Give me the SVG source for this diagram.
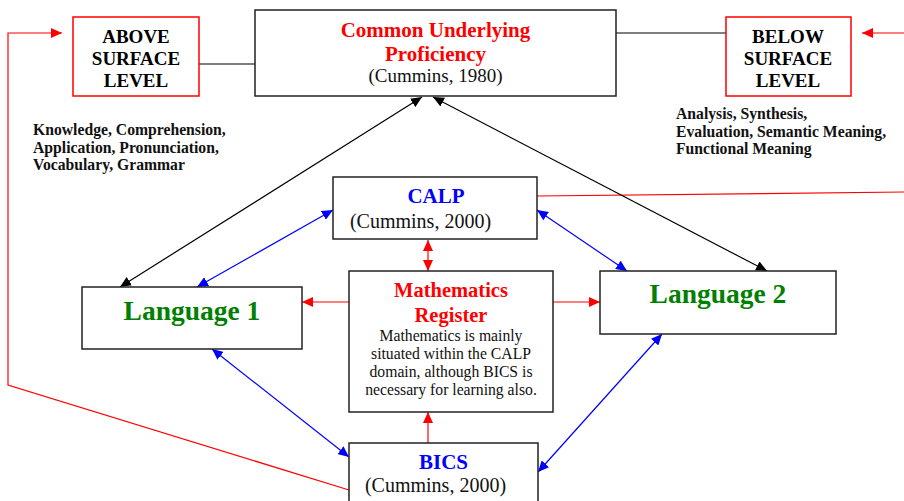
<svg xmlns="http://www.w3.org/2000/svg" width="904" height="501" viewBox="0 0 904 501">
<style>
.box{fill:#fff;stroke:#222;stroke-width:1.5}
.rbox{fill:#fff;stroke:#f00;stroke-width:1.5}
.t{font-family:"Liberation Serif","Times New Roman",serif;text-anchor:middle}
.b{font-weight:bold}
.l{font-family:"Liberation Serif","Times New Roman",serif;font-weight:bold;font-size:15.7px;fill:#111}
.k{stroke:#000;stroke-width:1.2;fill:none}
.bl{stroke:#00f;stroke-width:1.2;fill:none}
.rd{stroke:#f00;stroke-width:1.2;fill:none}
</style>
<defs>
<marker id="ak" markerUnits="userSpaceOnUse" markerWidth="11" markerHeight="10" refX="11" refY="5" orient="auto-start-reverse"><path d="M0,0 L11,5 L0,10 z" fill="#000"/></marker>
<marker id="ab" markerUnits="userSpaceOnUse" markerWidth="11" markerHeight="10" refX="11" refY="5" orient="auto-start-reverse"><path d="M0,0 L11,5 L0,10 z" fill="#00f"/></marker>
<marker id="ar" markerUnits="userSpaceOnUse" markerWidth="11" markerHeight="10" refX="11" refY="5" orient="auto-start-reverse"><path d="M0,0 L11,5 L0,10 z" fill="#f00"/></marker>
</defs>
<g id="connectors">
<line class="k" x1="199" y1="64" x2="255" y2="64"/>
<line class="k" x1="616" y1="33" x2="726" y2="33"/>
<polyline class="rd" points="349,490 8,385 8,33 62,33" marker-end="url(#ar)"/>
<line class="rd" x1="904" y1="33" x2="862" y2="33" marker-end="url(#ar)"/>
<line class="rd" x1="537" y1="196" x2="904" y2="192"/>
<line class="k" x1="120" y1="287" x2="422" y2="97" marker-start="url(#ak)" marker-end="url(#ak)"/>
<line class="k" x1="767" y1="271" x2="433" y2="97" marker-start="url(#ak)" marker-end="url(#ak)"/>
<line class="bl" x1="197" y1="287" x2="333" y2="210" marker-start="url(#ab)" marker-end="url(#ab)"/>
<line class="bl" x1="627" y1="271" x2="537" y2="210" marker-start="url(#ab)" marker-end="url(#ab)"/>
<line class="rd" x1="428" y1="240" x2="428" y2="271" marker-start="url(#ar)" marker-end="url(#ar)"/>
<line class="rd" x1="349" y1="302" x2="302" y2="302" marker-end="url(#ar)"/>
<line class="rd" x1="553" y1="302" x2="600" y2="302" marker-end="url(#ar)"/>
<line class="rd" x1="428" y1="443" x2="428" y2="412" marker-end="url(#ar)"/>
<line class="bl" x1="212" y1="349" x2="349" y2="457" marker-start="url(#ab)" marker-end="url(#ab)"/>
<line class="bl" x1="662" y1="334" x2="538" y2="472" marker-start="url(#ab)" marker-end="url(#ab)"/>
</g>
<g id="above">
<rect class="rbox" x="73" y="17" width="126" height="79"/>
<text class="t b" font-size="19" x="136" y="43">ABOVE</text>
<text class="t b" font-size="19" x="136" y="65">SURFACE</text>
<text class="t b" font-size="19" x="136" y="87">LEVEL</text>
</g>
<g id="cup">
<rect class="box" x="255" y="10" width="361" height="86"/>
<text class="t b" font-size="21" fill="#f00" x="435.5" y="37">Common Underlying</text>
<text class="t b" font-size="21" fill="#f00" x="435.5" y="61">Proficiency</text>
<text class="t" font-size="19" fill="#111" x="435.5" y="82">(Cummins, 1980)</text>
</g>
<g id="below">
<rect class="rbox" x="726" y="17" width="125" height="79"/>
<text class="t b" font-size="19" x="788" y="43">BELOW</text>
<text class="t b" font-size="19" x="788" y="65">SURFACE</text>
<text class="t b" font-size="19" x="788" y="87">LEVEL</text>
</g>
<g id="above-notes">
<text class="l" x="33" y="135">Knowledge, Comprehension,</text>
<text class="l" x="33" y="152.5">Application, Pronunciation,</text>
<text class="l" x="33" y="170">Vocabulary, Grammar</text>
</g>
<g id="below-notes">
<text class="l" x="676" y="119">Analysis, Synthesis,</text>
<text class="l" x="676" y="136.5">Evaluation, Semantic Meaning,</text>
<text class="l" x="676" y="154">Functional Meaning</text>
</g>
<g id="calp">
<rect class="box" x="333" y="177" width="204" height="62"/>
<text class="t b" font-size="21" fill="#00f" x="436" y="203">CALP</text>
<text class="t" font-size="20" fill="#111" x="420.5" y="228">(Cummins, 2000)</text>
</g>
<g id="lang1">
<rect class="box" x="82" y="287" width="220" height="62"/>
<text class="t b" font-size="27.5" fill="#008000" x="192" y="320">Language 1</text>
</g>
<g id="lang2">
<rect class="box" x="600" y="271" width="236" height="63"/>
<text class="t b" font-size="27.5" fill="#008000" x="718" y="303">Language 2</text>
</g>
<g id="math">
<rect class="box" x="349" y="271" width="204" height="141"/>
<text class="t b" font-size="20.5" fill="#f00" x="451" y="297">Mathematics</text>
<text class="t b" font-size="20.5" fill="#f00" x="451" y="322">Register</text>
<text class="t" font-size="15.7" fill="#111" x="451" y="341">Mathematics is mainly</text>
<text class="t" font-size="15.7" fill="#111" x="451" y="359">situated within the CALP</text>
<text class="t" font-size="15.7" fill="#111" x="451" y="377">domain, although BICS is</text>
<text class="t" font-size="15.7" fill="#111" x="451" y="394.5">necessary for learning also.</text>
</g>
<g id="bics">
<rect class="box" x="349" y="443" width="189" height="70"/>
<text class="t b" font-size="21" fill="#00f" x="443.5" y="469">BICS</text>
<text class="t" font-size="20" fill="#111" x="435.5" y="492">(Cummins, 2000)</text>
</g>
</svg>
